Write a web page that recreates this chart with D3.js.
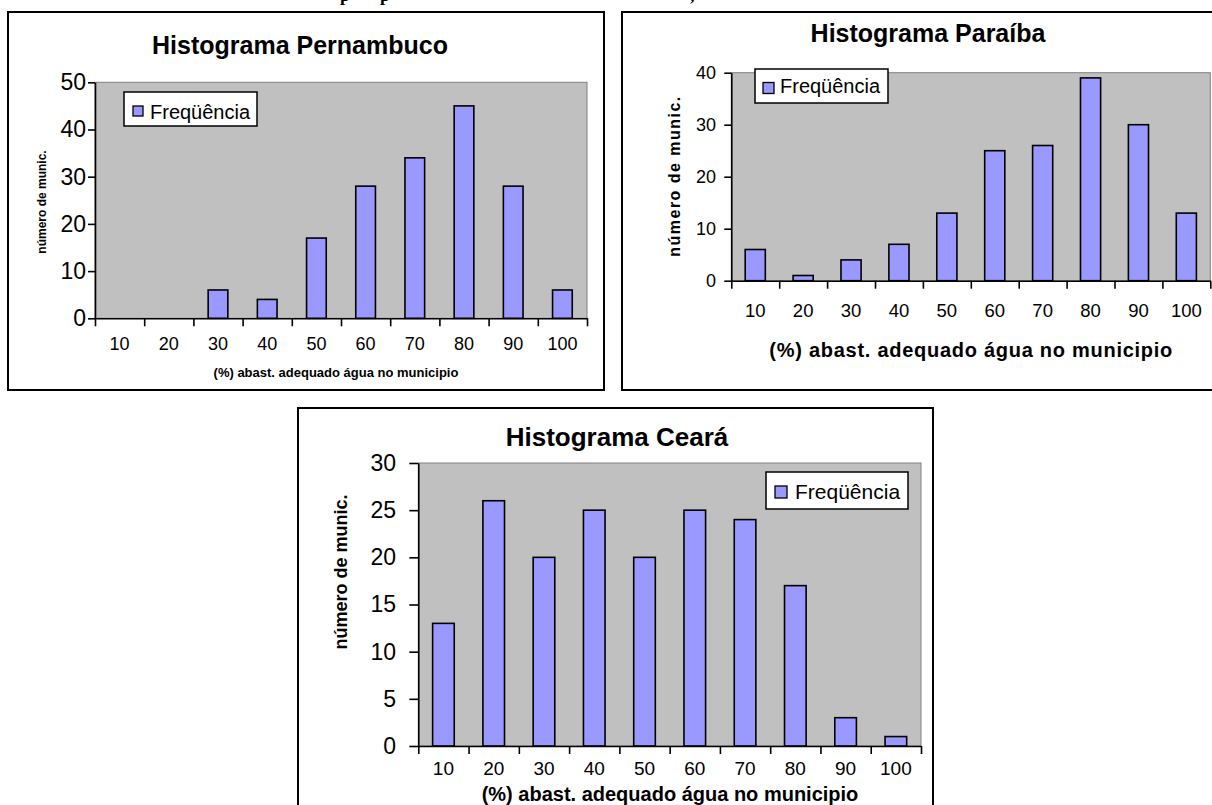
<!DOCTYPE html>
<html>
<head>
<meta charset="utf-8">
<script src="https://cdn.jsdelivr.net/npm/d3@7"></script>
<style>
  html, body { margin: 0; padding: 0; background: #ffffff; }
  svg { display: block; }
  text { font-family: "Liberation Sans", Arial, sans-serif; fill: #000; }
</style>
</head>
<body>
<svg id="chart" width="1212" height="805"></svg>
<script>
// ---------------- DATA ----------------
const categories = ["10", "20", "30", "40", "50", "60", "70", "80", "90", "100"];
const pernambucoValues = [0, 0, 6, 4, 17, 28, 34, 45, 28, 6];
const paraibaValues    = [6, 1, 4, 7, 13, 25, 26, 39, 30, 13];
const cearaValues      = [13, 26, 20, 25, 20, 25, 24, 17, 3, 1];
const pernambucoTicks = [0, 10, 20, 30, 40, 50];
const paraibaTicks    = [0, 10, 20, 30, 40];
const cearaTicks      = [0, 5, 10, 15, 20, 25, 30];
const chartTitles = ["Histograma Pernambuco", "Histograma Paraíba", "Histograma Ceará"];
const legendLabel = "Freqüência";
const xAxisTitle = "(%) abast. adequado água no municipio";
const yAxisTitle = "número de munic.";

// ---------------- LAYOUT ----------------
const layouts = [
  { frame: {x: 8, y: 12, w: 596, h: 378},
    plot: {x0: 95, x1: 587, y0: 82.3, y1: 318.3}, yMax: 50, pad: 0.6,
    title: {x: 300, y: 54, size: 25},
    yLabel: {x: 86, size: 23}, yTick: 7, xTick: 8,
    xLabel: {y: 349.5, size: 18},
    xTitle: {x: 336, y: 377, size: 13},
    yTitle: {x: 41.7, y: 202, size: 12},
    legend: {x: 124, y: 92, w: 133, h: 34, sw: 10, swX: 133, swY: 106, tx: 150, ty: 111.7, size: 20} },
  { frame: {x: 622, y: 12, w: 640, h: 378},
    plot: {x0: 731.3, x1: 1210.3, y0: 72.7, y1: 280.7}, yMax: 40, pad: 0.58,
    title: {x: 928, y: 42, size: 25},
    yLabel: {x: 716, size: 18}, yTick: 7, xTick: 8,
    xLabel: {y: 317, size: 18.5},
    xTitle: {x: 970.8, y: 357, size: 20, len: 403},
    yTitle: {x: 674, y: 176.7, size: 16, len: 160},
    legend: {x: 755, y: 69, w: 133, h: 34, sw: 11, swX: 763, swY: 82.5, tx: 780, ty: 86, size: 20} },
  { frame: {x: 298, y: 408, w: 635, h: 420},
    plot: {x0: 418.3, x1: 921, y0: 463, y1: 746}, yMax: 30, pad: 0.57,
    title: {x: 617, y: 446, size: 26},
    yLabel: {x: 396, size: 23}, yTick: 9, xTick: 8,
    xLabel: {y: 775, size: 19},
    xTitle: {x: 670, y: 801, size: 20},
    yTitle: {x: 341, y: 572, size: 18},
    legend: {x: 766, y: 472, w: 142, h: 37, sw: 12, swX: 775, swY: 486, tx: 795, ty: 491, size: 21} }
];
const seriesValues = [pernambucoValues, paraibaValues, cearaValues];
const seriesTicks = [pernambucoTicks, paraibaTicks, cearaTicks];

const svg = d3.select("#chart");

// partially cropped caption line at the top of the page (only descenders visible)
const capG = svg.append("g").style("font-weight", "bold").style("font-size", "18px");
[["p", 340], ["p", 380], [",", 690]].forEach(([t, xx]) => {
  capG.append("text").attr("x", xx).attr("y", 1)
    .style("font-family", "'Liberation Serif', 'Times New Roman', serif").text(t);
});

function drawChart(L, values, ticks, title) {
  const g = svg.append("g");
  // frame
  g.append("rect").attr("x", L.frame.x).attr("y", L.frame.y)
    .attr("width", L.frame.w).attr("height", L.frame.h)
    .attr("fill", "#ffffff").attr("stroke", "#000").attr("stroke-width", 2);

  // title
  g.append("text").attr("x", L.title.x).attr("y", L.title.y)
    .attr("text-anchor", "middle").style("font-weight", "bold")
    .style("font-size", L.title.size + "px").text(title);

  const x = d3.scaleBand().domain(categories).range([L.plot.x0, L.plot.x1])
    .paddingInner(L.pad).paddingOuter(L.pad / 2);
  const xEdge = d3.scaleLinear().domain([0, categories.length]).range([L.plot.x0, L.plot.x1]);
  const y = d3.scaleLinear().domain([0, L.yMax]).range([L.plot.y1, L.plot.y0]);

  // plot area
  g.append("rect").attr("x", L.plot.x0).attr("y", L.plot.y0)
    .attr("width", L.plot.x1 - L.plot.x0).attr("height", L.plot.y1 - L.plot.y0)
    .attr("fill", "#c0c0c0").attr("stroke", "#808080").attr("stroke-width", 1);

  // bars
  g.selectAll("rect.bar").data(values.map((v, i) => ({c: categories[i], v})))
    .join("rect").attr("class", "bar")
    .attr("x", d => x(d.c)).attr("width", x.bandwidth())
    .attr("y", d => y(d.v)).attr("height", d => y(0) - y(d.v))
    .attr("fill", "#9999ff").attr("stroke", "#000").attr("stroke-width", 1.6);

  // y axis
  const yAxis = d3.axisLeft(y).tickValues(ticks).tickSize(L.yTick).tickSizeOuter(0).tickPadding(0);
  const yg = g.append("g").attr("transform", `translate(${L.plot.x0},0)`).call(yAxis);
  yg.select(".domain").attr("stroke", "#000").attr("stroke-width", 1.6);
  yg.selectAll(".tick line").attr("stroke", "#000").attr("stroke-width", 1.6);
  yg.selectAll(".tick text").attr("x", L.yLabel.x - L.plot.x0)
    .style("font-size", L.yLabel.size + "px").style("font-family", "'Liberation Sans', Arial, sans-serif")
    .attr("fill", "#000");

  // x axis: boundary ticks
  const xAxis = d3.axisBottom(xEdge).tickValues(d3.range(0, categories.length + 1))
    .tickSize(L.xTick).tickSizeOuter(0).tickFormat("");
  const xg = g.append("g").attr("transform", `translate(0,${L.plot.y1})`).call(xAxis);
  xg.select(".domain").attr("stroke", "#000").attr("stroke-width", 1.6);
  xg.selectAll(".tick line").attr("stroke", "#000").attr("stroke-width", 1.6);

  // category labels
  g.selectAll("text.xlab").data(categories).join("text").attr("class", "xlab")
    .attr("x", d => x(d) + x.bandwidth() / 2).attr("y", L.xLabel.y)
    .attr("text-anchor", "middle").style("font-size", L.xLabel.size + "px").text(d => d);

  // axis titles
  const xt = g.append("text").attr("x", L.xTitle.x).attr("y", L.xTitle.y)
    .attr("text-anchor", "middle").style("font-weight", "bold")
    .style("font-size", L.xTitle.size + "px").text(xAxisTitle);
  if (L.xTitle.len) xt.attr("textLength", L.xTitle.len).attr("lengthAdjust", "spacing");

  const yt = g.append("text").attr("transform", `translate(${L.yTitle.x},${L.yTitle.y}) rotate(-90)`)
    .attr("text-anchor", "middle").attr("dominant-baseline", "central")
    .style("font-weight", "bold").style("font-size", L.yTitle.size + "px").text(yAxisTitle);
  if (L.yTitle.len) yt.attr("textLength", L.yTitle.len).attr("lengthAdjust", "spacing");

  // legend
  const lg = g.append("g");
  lg.append("rect").attr("x", L.legend.x).attr("y", L.legend.y)
    .attr("width", L.legend.w).attr("height", L.legend.h)
    .attr("fill", "#fff").attr("stroke", "#000").attr("stroke-width", 1.5);
  lg.append("rect").attr("x", L.legend.swX).attr("y", L.legend.swY)
    .attr("width", L.legend.sw).attr("height", L.legend.sw)
    .attr("fill", "#9999ff").attr("stroke", "#000").attr("stroke-width", 1.3);
  lg.append("text").attr("x", L.legend.tx).attr("y", L.legend.ty)
    .attr("dominant-baseline", "central").style("font-size", L.legend.size + "px").text(legendLabel);
}

layouts.forEach((L, i) => drawChart(L, seriesValues[i], seriesTicks[i], chartTitles[i]));
</script>
</body>
</html>
